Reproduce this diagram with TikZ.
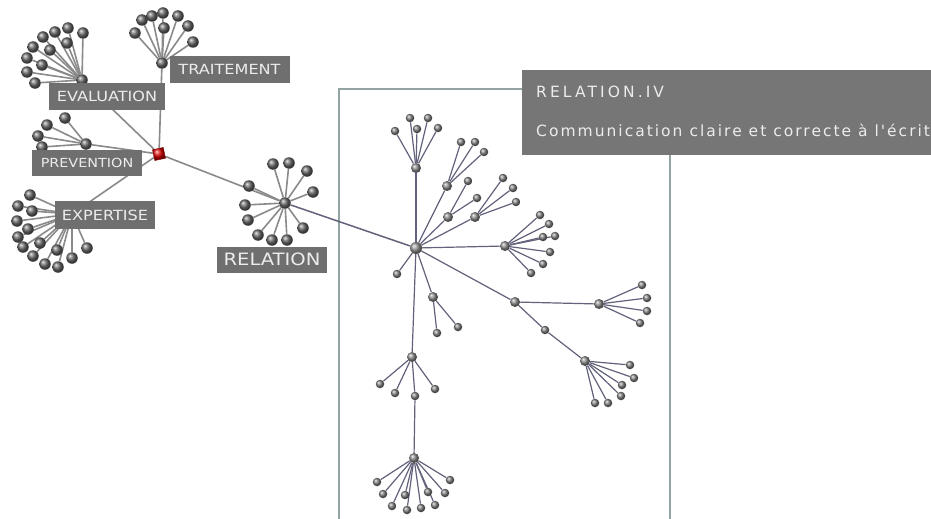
\documentclass[tikz,border=0pt]{standalone}
\usepackage{fontspec}
\newfontfamily\labfont[FakeStretch=1.15]{DejaVu Sans}
\newfontfamily\tipfont[LetterSpace=13]{DejaVu Sans}
\newfontfamily\tiptitle[LetterSpace=20]{DejaVu Sans}
\definecolor{labgray}{HTML}{6F6F6F}
\definecolor{tipgray}{HTML}{767676}
\definecolor{labtext}{HTML}{ECECEC}
\definecolor{edgegray}{HTML}{8A8A8A}
\definecolor{edgeviolet}{HTML}{62627C}
\definecolor{framecol}{HTML}{93A3A3}
\pgfdeclarelayer{back}\pgfdeclarelayer{edges}\pgfdeclarelayer{front}
\pgfsetlayers{back,edges,main,front}
\newcommand\myfan[5]{\foreach \x/\y [count=\k] in {#5}{\node[#3] (#2\k) at (\x,\y) {};
  \begin{pgfonlayer}{edges}\draw[#4] (#1) -- (#2\k);\end{pgfonlayer}}}
\tikzset{
  bigball/.style={circle, inner sep=0pt, minimum size=11.5pt, shading=ball, ball color=black!58},
  smallball/.style={circle, inner sep=0pt, minimum size=8.5pt, shading=ball, ball color=black!50},
  hubball/.style={circle, inner sep=0pt, minimum size=10pt, shading=ball, ball color=black!45},
  mainhub/.style={circle, inner sep=0pt, minimum size=12pt, shading=ball, ball color=black!40},
  grayedge/.style={draw=edgegray, line width=1.6pt},
  violedge/.style={draw=edgeviolet, line width=1.2pt},
  lab/.style={fill=labgray, text=labtext, inner sep=0pt, font=\labfont\fontsize{14}{16}\selectfont},
  cube/.style={rectangle, inner sep=0pt, minimum size=11pt, shading=ball, ball color=red!85!black, rotate=12, draw=red!50!black, line width=0.4pt}
}
\begin{document}
\begin{tikzpicture}[x=1pt,y=-1pt]
\useasboundingbox (0,0) rectangle (931,519);
\begin{pgfonlayer}{back}
\fill[white] (0,0) rectangle (931,519);
\draw[framecol, line width=1.8pt] (339,530) -- (339,89) -- (670,89) -- (670,530);
\end{pgfonlayer}
% root
\node[cube] (root) at (159,154) {};
% hubs
\node[bigball] (evh) at (82,80) {};
\node[bigball] (trh) at (162,63) {};
\node[bigball] (prh) at (86,144) {};
\node[bigball] (exh) at (72,214) {};
\node[bigball] (reh) at (285,203) {};
\node[mainhub] (H) at (416,248) {};
\begin{pgfonlayer}{edges}
\draw[grayedge] (root) -- (evh);
\draw[grayedge] (root) -- (trh);
\draw[grayedge] (root) -- (prh);
\draw[grayedge] (root) -- (exh);
\draw[grayedge] (root) -- (reh);
\draw[violedge, line width=1.5pt] (reh) -- (H);
\end{pgfonlayer}
\myfan{evh}{ev}{bigball}{grayedge}{83/33,68/28,55/32,43/37,33/47,27/58,27/72,35/83,42/65,50/50,67/43}
\myfan{trh}{tr}{bigball}{grayedge}{135/33,142/20,152/16,163/13,178/16,188/26,193/42,164/28}
\myfan{prh}{pr}{bigball}{grayedge}{65/118,47/125,38/136,42/147}
\myfan{exh}{ex}{bigball}{grayedge}{30/195,18/206,32/211,17/221,28/229,18/237,23/247,40/243,33/256,45/264,58/267,57/250,72/258,87/248}
\myfan{reh}{re}{bigball}{grayedge}{249/186,273/164,289/163,307/171,313/192,303/228,287/240,272/240,258/235,248/220,245/205}
% RELATION.IV tree
\node[hubball] (A) at (416,168) {};
\node[hubball] (B) at (447,186) {};
\node[hubball] (C) at (448,217) {};
\node[hubball] (D) at (475,217) {};
\node[hubball] (E) at (505,246) {};
\node[smallball] (S) at (397,274) {};
\node[hubball] (F) at (433,297) {};
\node[hubball] (G) at (412,357) {};
\node[smallball] (G3) at (415,396) {};
\node[hubball] (I) at (414,458) {};
\node[hubball] (J) at (515,302) {};
\node[smallball] (L) at (545,330) {};
\node[hubball] (K) at (599,304) {};
\node[hubball] (M) at (585,361) {};
\begin{pgfonlayer}{edges}
\foreach \n in {A,B,C,D,E,S,F,G,J} {\draw[violedge] (H) -- (\n);}
\draw[violedge] (G) -- (G3);
\draw[violedge] (G3) -- (I);
\draw[violedge] (J) -- (K);
\draw[violedge] (J) -- (L);
\draw[violedge] (L) -- (M);
\end{pgfonlayer}
\myfan{A}{a}{smallball}{violedge}{410/118,428/118,417/129,395/131,438/128}
\myfan{B}{b}{smallball}{violedge}{461/142,475/142,484/152}
\myfan{C}{c}{smallball}{violedge}{468/181,477/198}
\myfan{D}{d}{smallball}{violedge}{503/178,513/188,516/202}
\myfan{E}{e}{smallball}{violedge}{540/215,549/224,543/237,555/236,550/252,543/264,531/273}
\myfan{F}{f}{smallball}{violedge}{437/333,458/327}
\myfan{G}{g}{smallball}{violedge}{380/384,395/393,435/389}
\myfan{I}{i}{smallball}{violedge}{377/482,383/494,392/506,407/510,421/508,435/505,405/495,428/492,445/493,450/480}
\myfan{K}{k}{smallball}{violedge}{642/285,647/298,647/311,640/323}
\myfan{M}{m}{smallball}{violedge}{630/365,634/378,622/385,621/396,608/403,595/403}
% labels
\node[lab, minimum width=120pt, minimum height=27pt] (ltr) at (229.5,69.5) {TRAITEMENT};
\node[lab, minimum width=116pt, minimum height=27pt] (lev) at (107,96.5) {EVALUATION};
\node[lab, minimum width=110pt, minimum height=26pt, font=\labfont\fontsize{12.5}{14}\selectfont] (lpr) at (87,163) {PREVENTION};
\node[lab, minimum width=100pt, minimum height=28pt] (lex) at (105,215) {EXPERTISE};
\node[lab, minimum width=110pt, minimum height=26pt, font=\labfont\fontsize{17}{19}\selectfont] (lre) at (272,259.5) {RELATION};
% tooltip
\begin{pgfonlayer}{front}
\fill[tipgray] (522,70) rectangle (940,155);
\node[anchor=base west, text=labtext, inner sep=0pt, font=\tiptitle\fontsize{15.5}{17}\selectfont] (tt1) at (536,97) {RELATION.IV};
\node[anchor=base west, text=labtext, inner sep=0pt, font=\tipfont\fontsize{15.5}{17}\selectfont] (tt2) at (536,136) {Communication claire et correcte à l'écrit};
\end{pgfonlayer}
\end{tikzpicture}
\end{document}
